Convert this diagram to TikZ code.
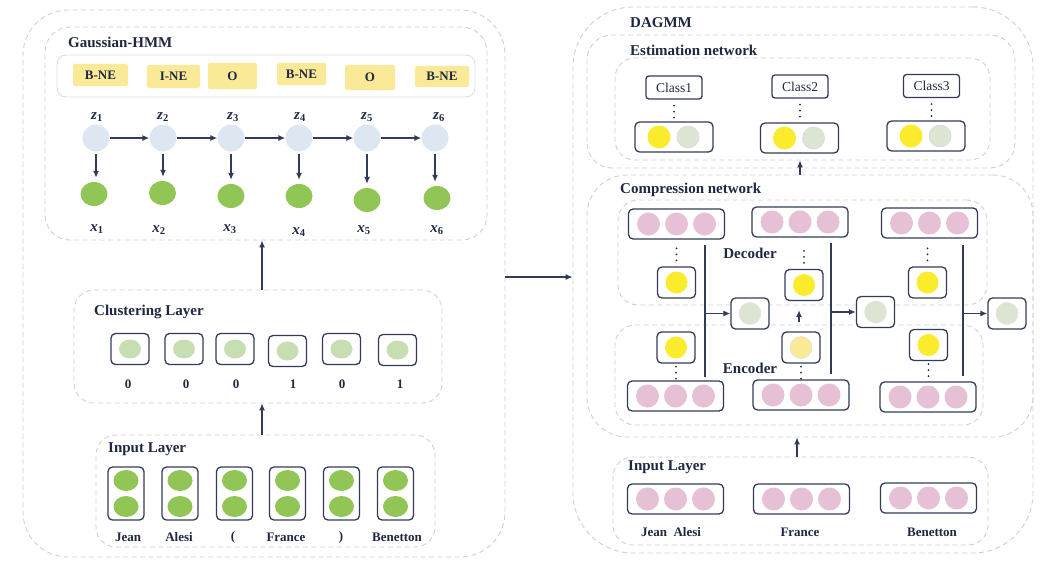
\documentclass[tikz,border=0pt]{standalone}
\usepackage{fontspec}
\setmainfont{Liberation Serif}
\usetikzlibrary{fit,arrows.meta,shapes.geometric}
\definecolor{navy}{RGB}{50,60,90}
\definecolor{txt}{RGB}{30,40,65}
\definecolor{dashc}{RGB}{205,208,216}
\definecolor{barc}{RGB}{218,222,232}
\definecolor{tagy}{RGB}{250,233,150}
\definecolor{zcc}{RGB}{221,231,241}
\definecolor{xgc}{RGB}{145,197,85}
\definecolor{cgc}{RGB}{198,222,178}
\definecolor{pinkcc}{RGB}{230,192,212}
\definecolor{yel}{RGB}{250,236,45}
\definecolor{pyel}{RGB}{250,234,150}
\definecolor{ggc}{RGB}{220,229,210}
\newcommand{\pinkbox}[3]{%
  \node[nbox, minimum width=96pt, minimum height=30pt] (#1) at (#2,#3) {};
  \node[dotc, fill=pinkcc, minimum size=23pt] (#1a) at ([xshift=-28pt]#1.center) {};
  \node[dotc, fill=pinkcc, minimum size=23pt] (#1b) at (#1.center) {};
  \node[dotc, fill=pinkcc, minimum size=23pt] (#1c) at ([xshift=28pt]#1.center) {};
}
\newcommand{\onebox}[4]{%
  \node[nbox, minimum width=38pt, minimum height=31pt] (#1) at (#2,#3) {};
  \node[dotc, #4, minimum size=22pt] (#1c) at (#1.center) {};
}
\newcommand{\varlab}[2]{\textbf{\textit{#1}}\textsubscript{\textbf{#2}}}
\begin{document}
\begin{tikzpicture}[x=1pt,y=-1pt,
  dbox/.style={draw=dashc, line width=0.9pt, dash pattern=on 5pt off 3.5pt, inner sep=0pt},
  nbox/.style={draw=navy, line width=1.3pt, rounded corners=4.5pt, fill=white, inner sep=0pt},
  arr/.style={draw=navy, line width=1.2pt, -{Latex[length=7pt,width=6pt]}},
  vline/.style={draw=navy, line width=1.3pt},
  dots/.style={draw=txt, line width=2pt, dash pattern=on 0pt off 6pt, line cap=round},
  title/.style={text=txt, font=\fontsize{15}{18}\selectfont\bfseries, inner sep=0pt, anchor=west},
  lab/.style={text=txt, font=\fontsize{13}{15}\selectfont\bfseries, inner sep=0pt},
  vlab/.style={text=txt, font=\fontsize{15}{17}\selectfont, inner sep=0pt},
  tag/.style={fill=tagy, rounded corners=2pt, inner sep=0pt, text=txt, font=\fontsize{13}{15}\selectfont\bfseries},
  dotc/.style={circle, inner sep=0pt},
  ell/.style={ellipse, inner sep=0pt}]
\fill[white] (0,0) rectangle (1054,578);
\useasboundingbox (0,0) rectangle (1054,578);

% ---------------- left part ----------------
\node[dbox, rounded corners=45pt, fit={(23,10) (505,557)}] (Lout) {};
\node[dbox, rounded corners=25pt, fit={(45,27) (487,240)}] (HMM) {};
\node[draw=barc, line width=0.9pt, rounded corners=9pt, inner sep=0pt, fit={(57,55) (475,97)}] (bar) {};
\node[dbox, rounded corners=20pt, fit={(74,290) (442,403)}] (Clust) {};
\node[dbox, rounded corners=20pt, fit={(96,435) (435,547)}] (Lin) {};

\node[title] (tHMM) at (68,42) {Gaussian-HMM};
\node[title] (tClust) at (94,312) {Clustering Layer};
\node[title] (tLin) at (108,449) {Input Layer};

\foreach \k/\x/\y/\w/\h/\t in {1/100.5/75/55/22/B-NE, 2/173.5/76.5/53/23/I-NE, 3/232.5/76/49/26/O, 4/301.5/74/49/22/B-NE, 5/370/77.5/50/25/O, 6/442/76.5/54/21/B-NE}
  \node[tag, minimum width=\w pt, minimum height=\h pt] (tag\k) at (\x,\y) {\t};

\foreach \k/\x/\lx in {1/96/97, 2/163/163, 3/231/233, 4/299/300, 5/367/367, 6/435/439} {
  \node[dotc, fill=zcc, minimum size=27pt] (z\k) at (\x,138) {};
  \node[vlab] (zl\k) at (\lx,117) {\varlab{z}{\k}};
}
\foreach \k/\x/\y/\lx/\ly in {1/94/194/97/229, 2/162.5/193/159/230, 3/231/196/230/229.5, 4/299/196/299/232, 5/367/200/364/230, 6/437/198/437/230} {
  \node[ell, fill=xgc, minimum width=27pt, minimum height=24pt] (x\k) at (\x,\y) {};
  \node[vlab] (xl\k) at (\lx,\ly) {\varlab{x}{\k}};
}
\foreach \a/\b in {1/2,2/3,3/4,4/5,5/6}
  \draw[arr] (z\a) -- (z\b);
\foreach \k in {1,...,6}
  \draw[arr, shorten <=2pt, shorten >=4pt] (z\k.south) -- (z\k.south |- x\k.north);

\foreach \k/\x/\y/\nx/\t in {1/130/349/128/0, 2/184/349/186/0, 3/235/349/236/0, 4/287.5/351/293/1, 5/341.5/349/342/0, 6/397.5/350/400/1} {
  \node[nbox, minimum width=38pt, minimum height=31pt] (cb\k) at (\x,\y) {};
  \node[ell, fill=cgc, minimum width=22pt, minimum height=19pt] (cc\k) at (cb\k.center) {};
  \node[lab] (cn\k) at (\nx,384) {\t};
}

\foreach \k/\x/\lx/\t in {1/126/128/Jean, 2/180/179/Alesi, 3/234.5/233/{(}, 4/287.5/286/France, 5/341.5/341/{)}, 6/395.5/397/Benetton} {
  \node[nbox, minimum width=36pt, minimum height=53pt] (ib\k) at (\x,493.5) {};
  \node[ell, fill=xgc, minimum width=25pt, minimum height=21pt] (ia\k) at (\x,480.5) {};
  \node[ell, fill=xgc, minimum width=25pt, minimum height=21pt] (ic\k) at (\x,506.5) {};
  \node[lab] (iw\k) at (\lx,537) {\t};
}

\coordinate (ax) at (262,0);
\draw[arr] (Clust.north -| ax) -- (HMM.south -| ax);
\draw[arr] (Lin.north -| ax) -- (Clust.south -| ax);

% ---------------- right part ----------------
\node[dbox, rounded corners=60pt, fit={(573,7) (1033,553)}] (Rout) {};
\node[dbox, rounded corners=25pt, fit={(587,35) (1015,168)}] (Est) {};
\node[dbox, rounded corners=20pt, fit={(615,58) (990,160)}] (EstIn) {};
\node[dbox, rounded corners=40pt, fit={(587,175) (1033,437)}] (Comp) {};
\node[dbox, rounded corners=20pt, fit={(618,200) (987,305)}] (Dec) {};
\node[dbox, rounded corners=20pt, fit={(615,325) (983,425)}] (Enc) {};
\node[dbox, rounded corners=20pt, fit={(613,457) (988,545)}] (Rin) {};

\coordinate (my) at (0,277);
\draw[arr] (Lout.east |- my) -- (Rout.west |- my);

\node[title] (tDAGMM) at (630,23) {DAGMM};
\node[title] (tEst) at (630,50) {Estimation network};
\node[title] (tComp) at (620,190) {Compression network};
\node[title] (tRin) at (628,467) {Input Layer};
\node[title, anchor=center] (tDec) at (750,253) {Decoder};
\node[title, anchor=center] (tEnc) at (750,368) {Encoder};

\foreach \k/\cx/\cy/\nx/\ny in {1/674/87.5/674/137, 2/800/86.5/799.5/138, 3/931.5/86/926/136} {
  \node[nbox, rounded corners=3pt, minimum width=56pt, minimum height=23pt, text=txt, font=\fontsize{13.5}{16}\selectfont] (cls\k) at (\cx,\cy) {Class\k};
  \node[nbox, minimum width=78pt, minimum height=30pt] (en\k) at (\nx,\ny) {};
  \node[dotc, fill=yel, minimum size=23pt] (ey\k) at ([xshift=-15pt]en\k.center) {};
  \node[dotc, fill=ggc, draw=black!15, line width=0.6pt, minimum size=22pt] (eg\k) at ([xshift=14pt]en\k.center) {};
  \draw[dots] ([yshift=-6pt]cls\k.south) -- ++(0,12.5);
}
\coordinate (ex) at (800,0);
\draw[arr] (Comp.north -| ex) -- (EstIn.south -| ex);

% decoder
\pinkbox{P1}{676.5}{224}
\pinkbox{P2}{800}{222}
\pinkbox{P3}{929.5}{223}
\onebox{Y1}{676.5}{282.5}{fill=yel}
\onebox{Y2}{804}{285}{fill=yel}
\onebox{Y3}{927.5}{282.5}{fill=yel}
\foreach \k in {1,2,3}
  \draw[dots] ([yshift=6pt]Y\k.north) -- ++(0,-12.5);

% encoder
\onebox{E1}{676}{347.5}{fill=yel}
\onebox{E2}{801}{347.5}{fill=pyel, draw=black!12, line width=0.6pt}
\onebox{E3}{928.5}{345}{fill=yel}
\pinkbox{Q1}{675.5}{396}
\pinkbox{Q2}{801}{395}
\pinkbox{Q3}{928}{397}
\foreach \k in {1,2,3}
  \draw[dots] ([yshift=-3pt]E\k.south) -- ++(0,12.5);

% latent (green) boxes
\onebox{G1}{750}{313.5}{fill=ggc, draw=black!10, line width=0.6pt}
\onebox{G2}{875.5}{312}{fill=ggc, draw=black!10, line width=0.6pt}
\onebox{G3}{1007}{313.5}{fill=ggc, draw=black!10, line width=0.6pt}

\coordinate (l1t) at (705,245); \coordinate (l1b) at (705,377);
\coordinate (l2t) at (831,243); \coordinate (l2b) at (831,374);
\coordinate (l3t) at (963,245); \coordinate (l3b) at (963,376);
\draw[vline] (l1t) -- (l1b);
\draw[vline] (l2t) -- (l2b);
\draw[vline] (l3t) -- (l3b);
\draw[arr] (l1t |- G1.west) -- (G1.west);
\draw[arr] (l2t |- G2.west) -- (G2.west);
\draw[arr] (l3t |- G3.west) -- (G3.west);
\draw[arr, shorten <=9pt, shorten >=9pt] (E2.north -| 799,0) -- (Y2.south -| 799,0);

% input (right)
\pinkbox{R1}{675.5}{499}
\pinkbox{R2}{801.5}{499}
\pinkbox{R3}{928.5}{498}
\node[lab] (rw1) at (671,532) {Jean\ \ Alesi};
\node[lab] (rw2) at (800,532) {France};
\node[lab] (rw3) at (932,532) {Benetton};
\coordinate (rx) at (797,0);
\draw[arr] (Rin.north -| rx) -- (Comp.south -| rx);
\end{tikzpicture}
\end{document}
